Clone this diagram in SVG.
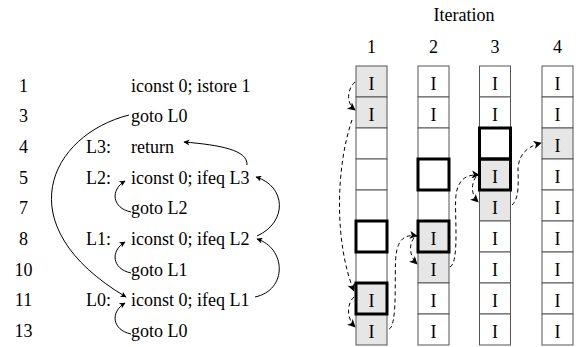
<svg xmlns="http://www.w3.org/2000/svg" width="579" height="347" viewBox="0 0 579 347" font-family="'Liberation Serif', 'DejaVu Serif', 'Times New Roman', serif">
  <style>
    text { font-family: "Liberation Serif", "DejaVu Serif", "Times New Roman", Times, serif; font-size: 18px; fill: #000; }
    .num { text-anchor: middle; }
    .cell { stroke: #555; stroke-width: 1; fill: #fff; }
    .hit { fill: #e6e6e6; }
    .cur { fill: none; stroke: #000; stroke-width: 3; }
    .ci { text-anchor: middle; }
    .flow { fill: none; stroke: #000; stroke-width: 1; marker-end: url(#tip); }
    .trace { fill: none; stroke: #000; stroke-width: 1; stroke-dasharray: 4 3; marker-end: url(#tipD); }
  </style>
  <defs>
    <marker id="tip" viewBox="0 0 10 10" refX="9" refY="5" markerWidth="7" markerHeight="6" markerUnits="userSpaceOnUse" orient="auto">
      <path d="M0,0 L10,5 L0,10 L2.5,5 z" fill="#000"/>
    </marker>
    <marker id="tipD" viewBox="0 0 10 10" refX="9" refY="5" markerWidth="10" markerHeight="8" markerUnits="userSpaceOnUse" orient="auto">
      <path d="M0,0 L10,5 L0,10 L2.5,5 z" fill="#000"/>
    </marker>
  </defs>

  <!-- bytecode listing -->
  <g id="line-1"><text class="num" x="23.5" y="91.5">1</text><text x="131" y="91.5">iconst 0; istore 1</text></g>
  <g id="line-3"><text class="num" x="23.5" y="122.2">3</text><text x="131" y="122.2">goto L0</text></g>
  <g id="line-4"><text class="num" x="23.5" y="152.9">4</text><text x="86" y="152.9">L3:</text><text x="131" y="152.9">return</text></g>
  <g id="line-5"><text class="num" x="23.5" y="183.6">5</text><text x="86" y="183.6">L2:</text><text x="131" y="183.6">iconst 0; ifeq L3</text></g>
  <g id="line-7"><text class="num" x="23.5" y="214.3">7</text><text x="131" y="214.3">goto L2</text></g>
  <g id="line-8"><text class="num" x="23.5" y="245">8</text><text x="86" y="245">L1:</text><text x="131" y="245">iconst 0; ifeq L2</text></g>
  <g id="line-10"><text class="num" x="23.5" y="275.7">10</text><text x="131" y="275.7">goto L1</text></g>
  <g id="line-11"><text class="num" x="23.5" y="306.4">11</text><text x="86" y="306.4">L0:</text><text x="131" y="306.4">iconst 0; ifeq L1</text></g>
  <g id="line-13"><text class="num" x="23.5" y="337.1">13</text><text x="131" y="337.1">goto L0</text></g>

  <!-- iteration columns -->
  <g id="header"><text class="ci" x="464" y="21">Iteration</text></g>

  <g id="iter-1">
    <text class="ci" x="371.5" y="53">1</text>
    <rect class="cell hit" x="356" y="66" width="31" height="31"/>
    <rect class="cell hit" x="356" y="97" width="31" height="31"/>
    <rect class="cell" x="356" y="128" width="31" height="31"/>
    <rect class="cell" x="356" y="159" width="31" height="31"/>
    <rect class="cell" x="356" y="190" width="31" height="31"/>
    <rect class="cell" x="356" y="221" width="31" height="31"/>
    <rect class="cell" x="356" y="252" width="31" height="31"/>
    <rect class="cell hit" x="356" y="283" width="31" height="31"/>
    <rect class="cell hit" x="356" y="314" width="31" height="31"/>
    <rect class="cur" x="356" y="221" width="31" height="31"/>
    <rect class="cur" x="356" y="283" width="31" height="31"/>
    <text class="ci" x="371.5" y="90">I</text>
    <text class="ci" x="371.5" y="121">I</text>
    <text class="ci" x="371.5" y="307">I</text>
    <text class="ci" x="371.5" y="338">I</text>
  </g>

  <g id="iter-2">
    <text class="ci" x="433.5" y="53">2</text>
    <rect class="cell" x="418" y="66" width="31" height="31"/>
    <rect class="cell" x="418" y="97" width="31" height="31"/>
    <rect class="cell" x="418" y="128" width="31" height="31"/>
    <rect class="cell" x="418" y="159" width="31" height="31"/>
    <rect class="cell" x="418" y="190" width="31" height="31"/>
    <rect class="cell hit" x="418" y="221" width="31" height="31"/>
    <rect class="cell hit" x="418" y="252" width="31" height="31"/>
    <rect class="cell" x="418" y="283" width="31" height="31"/>
    <rect class="cell" x="418" y="314" width="31" height="31"/>
    <rect class="cur" x="418" y="159" width="31" height="31"/>
    <rect class="cur" x="418" y="221" width="31" height="31"/>
    <text class="ci" x="433.5" y="90">I</text>
    <text class="ci" x="433.5" y="121">I</text>
    <text class="ci" x="433.5" y="245">I</text>
    <text class="ci" x="433.5" y="276">I</text>
    <text class="ci" x="433.5" y="307">I</text>
    <text class="ci" x="433.5" y="338">I</text>
  </g>

  <g id="iter-3">
    <text class="ci" x="495" y="53">3</text>
    <rect class="cell" x="479.5" y="66" width="31" height="31"/>
    <rect class="cell" x="479.5" y="97" width="31" height="31"/>
    <rect class="cell" x="479.5" y="128" width="31" height="31"/>
    <rect class="cell hit" x="479.5" y="159" width="31" height="31"/>
    <rect class="cell hit" x="479.5" y="190" width="31" height="31"/>
    <rect class="cell" x="479.5" y="221" width="31" height="31"/>
    <rect class="cell" x="479.5" y="252" width="31" height="31"/>
    <rect class="cell" x="479.5" y="283" width="31" height="31"/>
    <rect class="cell" x="479.5" y="314" width="31" height="31"/>
    <rect class="cur" x="479.5" y="128" width="31" height="31"/>
    <rect class="cur" x="479.5" y="159" width="31" height="31"/>
    <text class="ci" x="495" y="90">I</text>
    <text class="ci" x="495" y="121">I</text>
    <text class="ci" x="495" y="183">I</text>
    <text class="ci" x="495" y="214">I</text>
    <text class="ci" x="495" y="245">I</text>
    <text class="ci" x="495" y="276">I</text>
    <text class="ci" x="495" y="307">I</text>
    <text class="ci" x="495" y="338">I</text>
  </g>

  <g id="iter-4">
    <text class="ci" x="557.5" y="53">4</text>
    <rect class="cell" x="542" y="66" width="31" height="31"/>
    <rect class="cell" x="542" y="97" width="31" height="31"/>
    <rect class="cell hit" x="542" y="128" width="31" height="31"/>
    <rect class="cell" x="542" y="159" width="31" height="31"/>
    <rect class="cell" x="542" y="190" width="31" height="31"/>
    <rect class="cell" x="542" y="221" width="31" height="31"/>
    <rect class="cell" x="542" y="252" width="31" height="31"/>
    <rect class="cell" x="542" y="283" width="31" height="31"/>
    <rect class="cell" x="542" y="314" width="31" height="31"/>
    <text class="ci" x="557.5" y="90">I</text>
    <text class="ci" x="557.5" y="121">I</text>
    <text class="ci" x="557.5" y="152">I</text>
    <text class="ci" x="557.5" y="183">I</text>
    <text class="ci" x="557.5" y="214">I</text>
    <text class="ci" x="557.5" y="245">I</text>
    <text class="ci" x="557.5" y="276">I</text>
    <text class="ci" x="557.5" y="307">I</text>
    <text class="ci" x="557.5" y="338">I</text>
  </g>

  <!-- control-flow jumps -->
  <g id="jumps">
    <path class="flow" d="M129,115 C50,135 5,225 126,297"/>
    <path class="flow" d="M247,165 C248,150 220,145 184,142"/>
    <path class="flow" d="M257,236 C288,222 286,186 256,177"/>
    <path class="flow" d="M255,297 C288,290 286,248 257,239"/>
    <path class="flow" d="M131,212 C112,208 110,190 125,181"/>
    <path class="flow" d="M131,273 C112,269 110,251 125,242"/>
    <path class="flow" d="M131,334 C112,330 110,312 125,303"/>
  </g>

  <!-- execution trace -->
  <g id="trace">
    <path class="trace" d="M355,82 C348,88 345,102 355,110"/>
    <path class="trace" d="M352,120 C335,170 335,245 354,291"/>
    <path class="trace" d="M354,297 C347,303 346,318 355,327"/>
    <path class="trace" d="M389,329 C398,326 394,270 396,255 C398,240 404,234 417,236"/>
    <path class="trace" d="M414,238 C409,244 409,256 417,264"/>
    <path class="trace" d="M450,267 C460,262 454,210 456,195 C458,180 466,174 479,175"/>
    <path class="trace" d="M476,177 C471,183 471,195 478,202"/>
    <path class="trace" d="M512,205 C520,198 518,180 518,168 C519,155 526,147 541,143"/>
  </g>
</svg>
